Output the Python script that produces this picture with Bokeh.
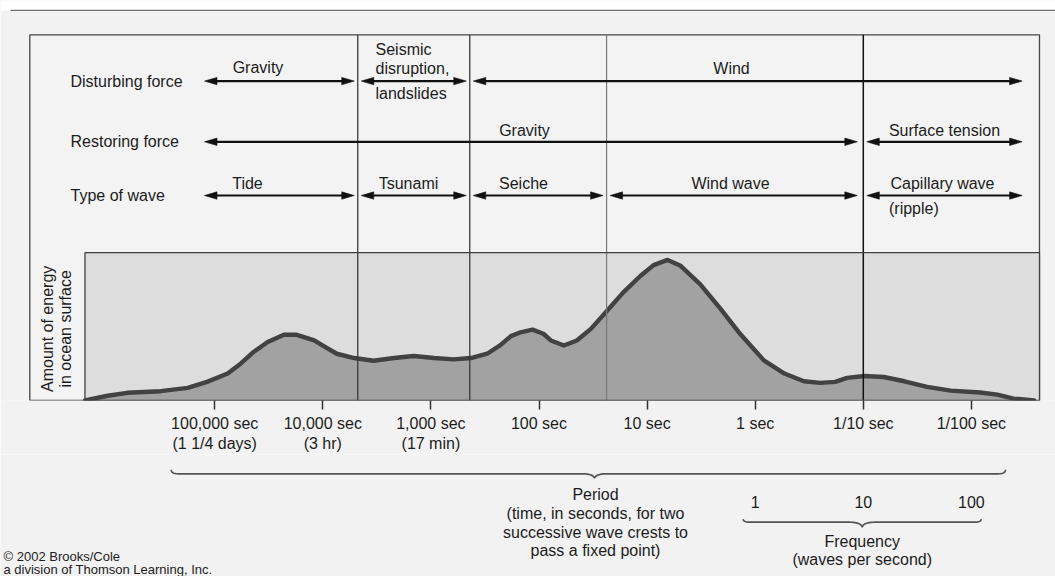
import numpy as np
from bokeh.plotting import figure
from bokeh.models import Range1d, FixedTicker
from bokeh.layouts import column
from bokeh.embed import file_html
from bokeh.resources import INLINE
from bokeh.core.properties import value

# ---------------- data ----------------
# x = log10(frequency, waves per second) = -log10(period, seconds)
ENERGY_LOGF = [-6.20, -5.99, -5.81, -5.50, -5.25, -5.07, -4.88, -4.76, -4.64, -4.51,
               -4.36, -4.24, -4.08, -3.96, -3.87, -3.71, -3.53, -3.34, -3.16, -2.97,
               -2.79, -2.63, -2.48, -2.36, -2.26, -2.17, -2.06, -1.96, -1.89, -1.77,
               -1.65, -1.52, -1.37, -1.22, -1.06, -0.94, -0.81, -0.69, -0.51, -0.32,
               -0.14, 0.08, 0.27, 0.45, 0.60, 0.74, 0.85, 1.01, 1.19, 1.38,
               1.59, 1.81, 2.08, 2.24, 2.39, 2.58]
# relative amount of energy (100 = top of the energy panel)
ENERGY_LEVEL = [0, 3.2, 5.2, 6.3, 8.5, 12.6, 18.2, 24.9, 32.8, 39.5,
                44.4, 44.4, 40.6, 35.4, 31.6, 28.7, 26.9, 28.7, 30.1, 28.7,
                27.8, 28.7, 31.6, 37.2, 43.5, 46.1, 47.9, 45.1, 40.6, 37.2,
                40.6, 48.4, 60.7, 73.1, 84.3, 91.5, 95.0, 91.0, 78.7, 61.9,
                45.1, 27.1, 18.2, 13.0, 11.9, 12.6, 15.3, 16.6, 15.9, 13.0,
                9.2, 6.7, 5.4, 4.0, 1.3, 0]
ENERGY_PANEL_LOGF = [-6.20, 2.63]

TICK_PERIODS = [100000, 10000, 1000, 100, 10, 1, 0.1, 0.01]
TICK_LABELS = ["100,000 sec\n(1 1/4 days)", "10,000 sec\n(3 hr)", "1,000 sec\n(17 min)",
               "100 sec", "10 sec", "1 sec", "1/10 sec", "1/100 sec"]

# period (s) at the vertical separators between wave types
BOUNDARY_PERIODS = [4750, 437, 23.7, 0.1]

FREQ_VALUES = [1, 10, 100]
FREQ_LABELS = ["1", "10", "100"]

ROW_NAMES = ["Disturbing force", "Restoring force", "Type of wave"]
DISTURBING_FORCES = ["Gravity", "Seismic disruption, landslides", "Wind"]
DISTURBING_SPANS = [(0, 1), (1, 2), (2, 5)]
RESTORING_FORCES = ["Gravity", "Surface tension"]
RESTORING_SPANS = [(0, 4), (4, 5)]
WAVE_TYPES = ["Tide", "Tsunami", "Seiche", "Wind wave", "Capillary wave"]
WAVE_SPANS = [(0, 1), (1, 2), (2, 3), (3, 4), (4, 5)]

# ---------------- layout (page pixels) ----------------
W = 1055
HA = 454
HB = 122
PX0, PX1 = 0, 1055
FRAME_TOP, FRAME_BOTTOM = 0, 402
TICK_X0 = 214.2      # page x of log f = -5
DEC = 108.1          # pixels per decade
PANEL_TOP = 253.3
PX_PER_E = (FRAME_BOTTOM - PANEL_TOP) / 100.0


def lf_at(px):
    return (px - TICK_X0) / DEC - 5


def px_at(lf):
    return TICK_X0 + DEC * (lf + 5)


FONT = value("Liberation Sans")
TXT = "#1c1c1c"
BG = "#f2f2f2"
ARROW_C = "#111111"

xr = Range1d(lf_at(PX0), lf_at(PX1))

p = figure(width=W, height=HA, x_range=xr,
           y_range=Range1d(0, (FRAME_BOTTOM - FRAME_TOP) / PX_PER_E),
           output_backend="svg", toolbar_location=None, y_axis_location=None,
           min_border_left=0, min_border_right=0, min_border_top=0,
           min_border_bottom=HA - (FRAME_BOTTOM - FRAME_TOP))
p.extra_x_ranges = {"px": Range1d(PX0, PX1)}
p.extra_y_ranges = {"py": Range1d(FRAME_BOTTOM, FRAME_TOP)}
p.background_fill_color = BG
p.border_fill_color = BG
p.outline_line_color = None
p.grid.grid_line_color = None

PG = dict(x_range_name="px", y_range_name="py")


def txt(fig, x, y, s, align="center", size="16px", angle=0.0, ranges=None):
    kw = ranges if ranges is not None else {}
    fig.text(x=[x], y=[y], text=[s], text_font=FONT, text_font_size=value(size),
             text_align=align, text_baseline="middle", angle=angle,
             text_color=TXT, **kw)


# white strip + top rule
p.quad(left=[PX0], right=[PX1], top=[FRAME_TOP], bottom=[10], fill_color="white",
       line_color=None, **PG)
p.segment(x0=[10], y0=[10], x1=[PX1], y1=[10], line_color="#707070", line_width=1.2, **PG)

# outer box
p.quad(left=[29.3], right=[1039], top=[34.5], bottom=[FRAME_BOTTOM], fill_color="#f3f3f3",
       line_color="#454545", line_width=1.3, **PG)

# energy panel
p.quad(left=[ENERGY_PANEL_LOGF[0]], right=[ENERGY_PANEL_LOGF[1]], bottom=[0], top=[100],
       fill_color="#dddddd", line_color=None)
p.varea(x=ENERGY_LOGF, y1=[0] * len(ENERGY_LOGF), y2=ENERGY_LEVEL, fill_color="#a2a2a2")
p.line(x=ENERGY_LOGF, y=ENERGY_LEVEL, line_color="#424242", line_width=4.4,
       line_join="round", line_cap="round")

# vertical separators
b_lf = [-np.log10(b) for b in BOUNDARY_PERIODS]
sep_colors = ["#3a3a3a", "#3a3a3a", "#7a7a7a", "#111111"]
sep_widths = [1.3, 1.3, 1.2, 1.5]
for b, c, w in zip(b_lf, sep_colors, sep_widths):
    p.segment(x0=[b], y0=[34.5], x1=[b], y1=[FRAME_BOTTOM], line_color=c, line_width=w,
              y_range_name="py")

# energy panel outline
p.quad(left=[ENERGY_PANEL_LOGF[0]], right=[ENERGY_PANEL_LOGF[1]], bottom=[0], top=[100],
       fill_color=None, line_color="#404040", line_width=1.3)

# axis
ticks = [int(round(-np.log10(t))) for t in TICK_PERIODS]
p.xaxis.ticker = FixedTicker(ticks=ticks)
p.xaxis.major_label_overrides = {t: lab for t, lab in zip(ticks, TICK_LABELS)}
p.xaxis.axis_line_color = None
p.xaxis.major_tick_line_color = "#333333"
p.xaxis.major_tick_line_width = 1.5
p.xaxis.major_tick_out = 9
p.xaxis.major_tick_in = 0
p.xaxis.minor_tick_line_color = None
p.xaxis.major_label_text_font = "Liberation Sans"
p.xaxis.major_label_text_font_size = "16px"
p.xaxis.major_label_text_color = TXT
p.xaxis.major_label_standoff = 5

# y label
txt(p, 46.7, 330, "Amount of energy", angle=np.pi / 2, ranges=PG)
txt(p, 65.0, 330, "in ocean surface", angle=np.pi / 2, ranges=PG)

# rows of arrows
ROW_Y = [81, 142, 196]
edges = [204] + [px_at(b) for b in b_lf] + [1021.6]
GAP = 3.5


def arrow(x0, x1, y):
    L, H = 12.5, 3.7
    p.segment(x0=[x0 + L - 1], y0=[y], x1=[x1 - L + 1], y1=[y], line_width=2.2,
              line_color=ARROW_C, **PG)
    p.patches(xs=[[x0, x0 + L, x0 + L], [x1, x1 - L, x1 - L]],
              ys=[[y, y - H, y + H], [y, y - H, y + H]],
              fill_color=ARROW_C, line_color=ARROW_C, line_width=0.6, **PG)


def span_px(i, j):
    a = edges[i] + (GAP if i > 0 else 0)
    b = edges[j] - (GAP if j < len(edges) - 1 else 0)
    return a, b


for name, y in zip(ROW_NAMES, ROW_Y):
    txt(p, 70, y, name, align="left", ranges=PG)

for (i, j) in DISTURBING_SPANS:
    a, b = span_px(i, j)
    arrow(a, b, ROW_Y[0])
for (i, j) in RESTORING_SPANS:
    a, b = span_px(i, j)
    if j == 4:
        b -= 2.5
    arrow(a, b, ROW_Y[1])
for (i, j) in WAVE_SPANS:
    a, b = span_px(i, j)
    if j == 4:
        b -= 2.5
    arrow(a, b, ROW_Y[2])

# row texts (page positions)
txt(p, 257.5, 67.5, DISTURBING_FORCES[0], ranges=PG)
seis = ["Seismic", "disruption,", "landslides"]
for s, yy in zip(seis, [49.5, 68.3, 93.0]):
    txt(p, 375, yy, s, align="left", ranges=PG)
txt(p, 731, 68, DISTURBING_FORCES[2], ranges=PG)

txt(p, 524, 130.5, RESTORING_FORCES[0], ranges=PG)
txt(p, 944, 130.5, RESTORING_FORCES[1], ranges=PG)

wave_x = [247, 408, 523, 730, 942]
for s, x in zip(WAVE_TYPES, wave_x):
    txt(p, x, 184, s, ranges=PG)
txt(p, 888.5, 209.5, "(ripple)", align="left", ranges=PG)

# ---------------- lower figure ----------------
q = figure(width=W, height=HB, x_range=xr, y_range=Range1d(FRAME_TOP + HA + HB, FRAME_TOP + HA),
           output_backend="svg", toolbar_location=None, x_axis_location=None,
           y_axis_location=None, min_border=0)
q.extra_x_ranges = {"px": Range1d(PX0, PX1)}
q.background_fill_color = BG
q.border_fill_color = BG
q.outline_line_color = None
q.grid.grid_line_color = None
PQ = dict(x_range_name="px")


def brace(fig, x0, x1, xm, y, curl, dip):
    def qb(p0, c, p1, n=12):
        t = np.linspace(0, 1, n)[:, None]
        return (1 - t) ** 2 * np.array(p0) + 2 * (1 - t) * t * np.array(c) + t ** 2 * np.array(p1)
    r, r2 = 7, 13
    P = np.vstack([qb((x0, y - curl), (x0, y), (x0 + r, y)),
                   qb((xm - r2, y), (xm - 1, y), (xm, y + dip)),
                   qb((xm, y + dip), (xm + 1, y), (xm + r2, y)),
                   qb((x1 - r, y), (x1, y), (x1, y - curl))])
    fig.line(x=P[:, 0], y=P[:, 1], line_color="#555555", line_width=1.7, **PQ)


brace(q, 170.7, 1005, 594, 473.3, 4, 4.5)
txt(q, 595, 494.3, "Period", ranges=PQ)
txt(q, 595, 513.3, "(time, in seconds, for two", ranges=PQ)
txt(q, 595, 532.0, "successive wave crests to", ranges=PQ)
txt(q, 595, 550.3, "pass a fixed point)", ranges=PQ)

for f, lab in zip(FREQ_VALUES, FREQ_LABELS):
    txt(q, float(np.log10(f)), 501, lab)
brace(q, 742.7, 980.7, 861.7, 521.7, 3, 5)
txt(q, 861.7, 541, "Frequency", ranges=PQ)
txt(q, 861.7, 559.3, "(waves per second)", ranges=PQ)

txt(q, 3, 555.5, "\u00a9 2002 Brooks/Cole", align="left", size="13px", ranges=PQ)
txt(q, 3, 569.0, "a division of Thomson Learning, Inc.", align="left", size="13px", ranges=PQ)

layout = column(p, q)
open("out.html", "w").write(file_html(layout, INLINE))
